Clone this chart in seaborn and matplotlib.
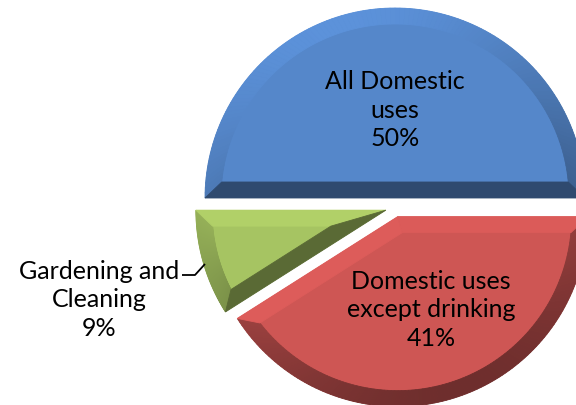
import numpy as np
import matplotlib
matplotlib.use("Agg")
import matplotlib.pyplot as plt
from matplotlib.patches import Polygon
from matplotlib.colors import to_rgb
import seaborn as sns

# Water use shares
categories = ["All Domestic\nuses", "Domestic uses\nexcept drinking", "Gardening and\nCleaning"]
shares = [50, 41, 9]
face_colors = ["#5587ca", "#ce5654", "#a6c462"]

sns.set_theme(style="white")
plt.rcParams["font.family"] = ["Lato", "DejaVu Sans"]

W, H = 576, 406
fig = plt.figure(figsize=(W / 100, H / 100), dpi=100)
ax = fig.add_axes([0, 0, 1, 1])

R = 190          # pie radius in pixels
GAP = 9.5        # explode distance in pixels
BEVEL = 16       # bevel band width in pixels
center = (395, H - 208.5)

wedges, _ = ax.pie(shares, colors=face_colors, startangle=180, counterclock=False,
                   radius=R, center=center, explode=[GAP] * len(shares),
                   wedgeprops=dict(linewidth=0))
ax.set_xlim(0, W)
ax.set_ylim(0, H)
ax.set_aspect("equal")
ax.axis("off")


def unit(a):
    return np.array([np.cos(a), np.sin(a)])


def lit(rgb, normal_deg):
    # simple directional light coming from the upper left
    f = 0.807 + 0.273 * np.cos(np.radians(normal_deg - 110))
    return tuple(np.clip(np.array(rgb) * f, 0, 1))


def add_bevel(ax, wedge, w=BEVEL, nseg=120):
    C = np.array(wedge.center, dtype=float)
    r = wedge.r
    a1, a2 = np.radians(wedge.theta1), np.radians(wedge.theta2)
    base = to_rgb(wedge.get_facecolor())
    u1, u2 = unit(a1), unit(a2)
    n1 = np.array([-np.sin(a1), np.cos(a1)])
    n2 = np.array([np.sin(a2), -np.cos(a2)])
    t = np.sqrt((r - w) ** 2 - w ** 2)
    P1 = C + w * n1 + t * u1
    P2 = C + w * n2 + t * u2
    d = np.arctan2(w, t)
    phis = np.linspace(a1, a2, nseg + 1)
    psis = np.linspace(a1 + d, a2 - d, nseg + 1)
    for i in range(nseg):
        quad = [C + r * unit(phis[i]), C + r * unit(phis[i + 1]),
                C + (r - w) * unit(psis[i + 1]), C + (r - w) * unit(psis[i])]
        col = lit(base, np.degrees(0.5 * (phis[i] + phis[i + 1])))
        ax.add_patch(Polygon(quad, closed=True, fc=col, ec=col, lw=0.6,
                             zorder=3, clip_on=False))
    span = a2 - a1
    if abs(span - np.pi) < 1e-6:
        quad = [C + r * u1, P1, P2, C + r * u2]
        col = lit(base, np.degrees(a1) - 90)
        ax.add_patch(Polygon(quad, closed=True, fc=col, ec=col, lw=0.6, zorder=3))
    else:
        V = C + w / np.sin(span / 2) * unit(0.5 * (a1 + a2))
        col1 = lit(base, np.degrees(a1) - 90)
        col2 = lit(base, np.degrees(a2) + 90)
        ax.add_patch(Polygon([C, C + r * u1, P1, V], closed=True, fc=col1, ec=col1,
                             lw=0.6, zorder=3))
        ax.add_patch(Polygon([C, V, P2, C + r * u2], closed=True, fc=col2, ec=col2,
                             lw=0.6, zorder=3))


for wdg in wedges:
    add_bevel(ax, wdg)

# data labels (pixel positions, y measured from top)
label_xy = [(395, 110), (431, 310), (99, 300)]
for name, val, (lx, ly) in zip(categories, shares, label_xy):
    ax.text(lx, H - ly, f"{name}\n{val}%", ha="center", va="center",
            fontsize=18, color="black", linespacing=1.3, zorder=5)

# leader line for the small slice
ax.plot([182, 195, 205], [H - 276, H - 276, H - 265], color="black", lw=1.3,
        zorder=5, solid_capstyle="butt")

fig.savefig("out.png", dpi=100)
